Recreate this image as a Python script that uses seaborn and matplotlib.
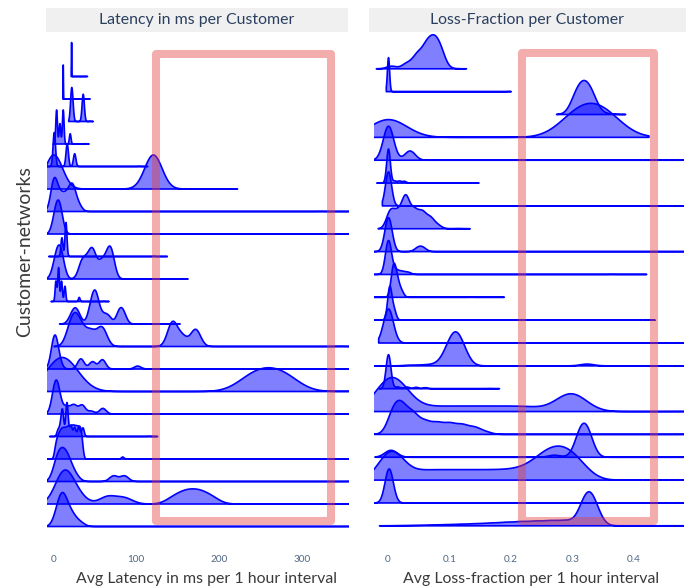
import numpy as np
import matplotlib
matplotlib.use("Agg")
import matplotlib.pyplot as plt
from matplotlib.patches import Rectangle
import seaborn as sns

sns.set_theme(style="white")
plt.rcParams["font.family"] = ["Lato", "DejaVu Sans"]

# ---------------------------------------------------------------------------
# Per-customer observations (value, weight) and KDE bandwidth, top row first.
# ---------------------------------------------------------------------------
LAT_POINTS = [
    [21.3, 40.0],
    [11.2, 43.2],
    [21.3, 22.5, 35.3, 44.0],
    [3.2, 7.2, 11.2, 19.6, 38.0],
    [0.4, 16.0, 25.0, 103.0],
    [0.0, 120.0, 197.0],
    [0, 6, 12, 18, 23, 30, 322],
    [2, 7, 347],
    [9.6, 14.5, 121],
    [2.5, 8, 34, 41, 47, 57, 64, 69, 147],
    [2.4, 5.6, 9.2, 13.3, 30.5, 60.5],
    [20, 25, 30, 44, 49, 53, 60, 66, 79, 84, 139],
    [20, 27, 35, 45, 58, 143, 155, 171, 345],
    [0.5, 5, 32.5, 46.5, 58.5, 101, 360],
    [10, 238, 259, 280, 360],
    [1, 5, 15, 24, 34, 45, 59, 360],
    [5, 8, 10.4, 15.7, 20.5, 25, 30, 35, 115],
    [2, 4.5, 7, 9.5, 12, 14.5, 17, 19.5, 22, 24.5, 27, 29.5, 32, 34, 83, 360],
    [2.5, 8, 14, 20, 27, 72, 85, 360],
    [8, 14, 22, 32, 65, 85, 145, 160, 175, 190, 360],
    [3, 8, 12, 18, 25, 33, 360],
]
LAT_WEIGHTS = [
    [1, 0.005],
    [1, 0.005],
    [30, 10, 30, 0.2],
    [20, 12, 20, 6, 0.2],
    [32, 21, 12, 0.1],
    [1, 1, 0.003],
    [10, 4, 4, 4, 7, 2, 0.02],
    [1, 1.3, 0.003],
    [0.55, 1, 0.005],
    [4, 6, 4, 3, 6, 3.5, 3, 6, 0.02],
    [6, 10, 6, 4.5, 1.2, 0.05],
    [1, 2.5, 1.5, 2.5, 5, 2.5, 1.5, 1.5, 2.5, 2, 0.02],
    [3, 4, 2, 2.5, 3.5, 4.5, 1.8, 3.2, 0.02],
    [10, 3, 3.5, 2.5, 3.2, 1, 0.01],
    [1, 0.33, 0.34, 0.33, 0.005],
    [6, 5, 2, 2.5, 2.5, 0.8, 1.6, 0.01],
    [1, 1.5, 4, 5.5, 1.8, 1.5, 1.6, 1.4, 0.02],
    [2, 3, 3.5, 4, 4, 4, 4.2, 4.2, 4.3, 4.3, 4.2, 4.2, 4, 2.5, 0.4, 0.01],
    [3, 4, 4, 2.5, 1, 1.3, 1.3, 0.01],
    [4, 4, 2.5, 1.2, 2, 1.6, 1.6, 2.6, 2.6, 1.6, 0.01],
    [1.5, 3, 3, 2.2, 1.3, 0.6, 0.01],
]
LAT_BW = [0.25, 0.25, 1.4, 1.0, 1.5, 10.5, 4, 4, 1.2, 4.5, 1.0, 4, 6, 4, 19, 4,
          1.5, 1.6, 5, 10, 5]

LOSS_POINTS = [
    [0.005, 0.03, 0.047, 0.062, 0.074, 0.085, 0.102],
    [0.0, 0.196],
    [0.305, 0.318, 0.331, 0.354],
    [0.0, 0.30, 0.328, 0.356, 0.37],
    [0.0, 0.035, 0.49],
    [0.0, 0.01, 0.018, 0.026, 0.128],
    [0.0, 0.49],
    [0.003, 0.015, 0.028, 0.042, 0.055, 0.068, 0.08, 0.113],
    [0.0, 0.048, 0.056, 0.49],
    [0.0, 0.012, 0.022, 0.032, 0.364],
    [0.008, 0.014, 0.021, 0.135],
    [0.002, 0.009, 0.373],
    [0.0, 0.49],
    [0.036, 0.06, 0.08, 0.097, 0.109, 0.121, 0.323, 0.49],
    [0.0, 0.015, 0.03, 0.045, 0.06, 0.165],
    [0.0, 0.015, 0.07, 0.11, 0.15, 0.19, 0.23, 0.297, 0.49],
    [0.008, 0.022, 0.04, 0.06, 0.08, 0.1, 0.12, 0.14, 0.158, 0.49],
    [0.004, 0.27, 0.312, 0.324, 0.49],
    [0.0, 0.01, 0.05, 0.08, 0.11, 0.14, 0.17, 0.2, 0.23, 0.255, 0.275, 0.295,
     0.315, 0.49],
    [0.0, 0.004, 0.49],
    [0.024, 0.048, 0.072, 0.096, 0.12, 0.144, 0.168, 0.192, 0.216, 0.24, 0.264,
     0.288, 0.32, 0.332, 0.49],
]
LOSS_WEIGHTS = [
    [0.6, 1.2, 3, 4.5, 5, 3.5, 0.05],
    [1, 0.005],
    [1, 1.4, 1, 0.05],
    [1.32, 1, 1.2, 1, 0.1],
    [1, 0.27, 0.002],
    [1, 0.06, 0.06, 0.05, 0.002],
    [1, 0.002],
    [3, 2.5, 5.5, 3, 2.7, 1.8, 0.6, 0.03],
    [1, 0.1, 0.1, 0.002],
    [1, 0.12, 0.08, 0.06, 0.002],
    [1, 0.5, 0.2, 0.003],
    [1, 0.3, 0.002],
    [1, 0.002],
    [0.03, 0.04, 0.06, 0.5, 1, 0.5, 0.08, 0.002],
    [1, 0.05, 0.05, 0.04, 0.03, 0.003],
    [3, 2, 0.5, 0.5, 0.5, 0.5, 0.5, 2.5, 0.01],
    [0.9, 1.0, 0.8, 0.5, 0.45, 0.43, 0.38, 0.28, 0.1, 0.003],
    [0.34, 0.1, 1, 1, 0.003],
    [1.0, 1.0, 0.43, 0.43, 0.43, 0.43, 0.43, 0.45, 0.6, 1, 1, 1, 0.5, 0.01],
    [1, 0.4, 0.001],
    [0.01, 0.02, 0.035, 0.05, 0.07, 0.09, 0.12, 0.15, 0.18, 0.2, 0.22, 0.24,
     1, 1, 0.002],
]
LOSS_BW = [0.008, 0.0018, 0.01, 0.03, 0.0085, 0.003, 0.005, 0.0065, 0.006,
           0.005, 0.004, 0.0035, 0.008, 0.011, 0.004, 0.025, 0.01, 0.01, 0.02,
           0.0065, 0.012]

LAT_TICKS = [0, 100, 200, 300]
LOSS_TICKS = [0, 0.1, 0.2, 0.3, 0.4]
LOSS_TICK_LABELS = ["0", "0.1", "0.2", "0.3", "0.4"]

# highlighted value ranges (x in data units, y in row units)
LAT_HIGHLIGHT = (124.0, 334.3)
LOSS_HIGHLIGHT = (0.218, 0.433)

# ---------------------------------------------------------------------------
FIG_W, FIG_H = 687, 588
BLUE = "#0000ff"
STRIP_BG = "#f0f0f0"
TITLE_C = "#2a3f5f"
TICK_C = "#506784"
LABEL_C = "#3a3a3a"
PEAK_PX = 34.0

fig = plt.figure(figsize=(FIG_W / 100, FIG_H / 100), dpi=100)
fig.patch.set_facecolor("white")


def box(x0, top, x1, bottom):
    """Pixel box (y measured from the top) -> figure-fraction rectangle."""
    return [x0 / FIG_W, 1 - bottom / FIG_H, (x1 - x0) / FIG_W, (bottom - top) / FIG_H]


panels = [
    dict(title="Latency in ms per Customer",
         xlabel="Avg Latency in ms per 1 hour interval", xlabel_pos=0.532,
         points=LAT_POINTS, weights=LAT_WEIGHTS, bws=LAT_BW,
         ax_px=(46.5, 348), strip_px=(46, 348), xlim=(-8.4, 355.4),
         row0=76.0, step=22.5, ticks=LAT_TICKS,
         ticklabels=[str(t) for t in LAT_TICKS],
         hl_x=LAT_HIGHLIGHT, hl_rows=(-1.0, 19.77)),
    dict(title="Loss-Fraction per Customer",
         xlabel="Avg Loss-fraction per 1 hour interval", xlabel_pos=0.508,
         points=LOSS_POINTS, weights=LOSS_WEIGHTS, bws=LOSS_BW,
         ax_px=(374, 683), strip_px=(369, 686), xlim=(-0.0228, 0.4797),
         row0=68.3, step=22.85, ticks=LOSS_TICKS,
         ticklabels=LOSS_TICK_LABELS,
         hl_x=LOSS_HIGHLIGHT, hl_rows=(-0.66, 19.82)),
]

for p in panels:
    x0, x1 = p["ax_px"]

    # facet strip with title
    sax = fig.add_axes(box(p["strip_px"][0], 8, p["strip_px"][1], 32))
    sax.set_facecolor(STRIP_BG)
    sax.set_xticks([]); sax.set_yticks([])
    for s in sax.spines.values():
        s.set_visible(False)
    sax.text(0.5, 0.5, p["title"], ha="center", va="center", fontsize=11.4,
             color=TITLE_C, transform=sax.transAxes)

    # base axes: x ticks and label
    bax = fig.add_axes(box(x0, 40, x1, 541))
    bax.set_xlim(*p["xlim"])
    bax.set_yticks([])
    bax.set_xticks(p["ticks"])
    bax.set_xticklabels(p["ticklabels"], fontsize=7.2, color=TICK_C)
    bax.tick_params(axis="x", length=0, pad=10)
    for s in bax.spines.values():
        s.set_visible(False)
    bax.patch.set_alpha(0)
    bax.set_xlabel(p["xlabel"], fontsize=11.4, color=LABEL_C)
    bax.xaxis.set_label_coords(p["xlabel_pos"], -0.062)

    # one ridge per customer, each on its own transparent axes
    for i, (pts, w, bw) in enumerate(zip(p["points"], p["weights"], p["bws"])):
        pts = np.asarray(pts, float)
        w = np.asarray(w, float)
        base = p["row0"] + i * p["step"]
        rax = fig.add_axes(box(x0, base - PEAK_PX - 3, x1, base + 2))
        factor = bw / np.sqrt(np.cov(pts, aweights=w))
        sns.kdeplot(x=pts, weights=w, bw_method=factor, cut=2, gridsize=900,
                    fill=True, color=BLUE, alpha=0.5, linewidth=1.2, ax=rax)
        ymax = max(path.vertices[:, 1].max()
                   for coll in rax.collections for path in coll.get_paths())
        rax.set_xlim(*p["xlim"])
        rax.set_ylim(-2 / PEAK_PX * ymax, (PEAK_PX + 3) / PEAK_PX * ymax)
        rax.set_axis_off()
        rax.patch.set_alpha(0)

    # highlight frame on top
    oax = fig.add_axes(box(x0, 40, x1, 541))
    oax.set_xlim(*p["xlim"])
    oax.set_ylim((541 - p["row0"]) / p["step"], (40 - p["row0"]) / p["step"])
    oax.set_axis_off()
    oax.patch.set_alpha(0)
    hx0, hx1 = p["hl_x"]
    hy0, hy1 = p["hl_rows"]
    oax.add_patch(Rectangle((hx0, hy0), hx1 - hx0, hy1 - hy0, fill=False,
                            edgecolor=(0.9, 0.24, 0.24, 0.42), linewidth=5.8,
                            joinstyle="round", clip_on=False, zorder=10))

fig.text(25 / FIG_W, 1 - 252 / FIG_H, "Customer-networks", rotation=90,
         ha="center", va="center", fontsize=14, color=LABEL_C)

fig.savefig("out.png", dpi=100, facecolor="white")
